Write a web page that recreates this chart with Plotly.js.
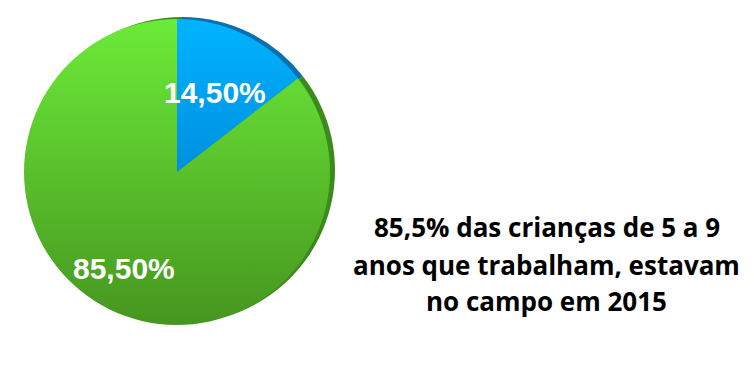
<!DOCTYPE html>
<html>
<head>
<meta charset="utf-8">
<script src="https://cdn.plot.ly/plotly-3.0.1.min.js"></script>
<style>html,body{margin:0;padding:0;background:#fff;}#chart{width:754px;height:366px;}</style>
</head>
<body>
<div id="chart"></div>
<script>
// Data
var categories = ['Outros', 'Campo'];
var values = [14.5, 85.5];
var sliceLabels = ['14,50%', '85,50%'];
var noteLines = ['85,5% das crianças de 5 a 9', 'anos que trabalham, estavam', 'no campo em 2015'];

var W = 754, H = 366;
function px(x){ return x / W; }
function py(y){ return (H - y) / H; }

// pie geometry (pixels)
var cx = 177, cy = 172, r = 153;

var shadow = {
  type: 'pie', labels: categories, values: values, sort: false,
  direction: 'clockwise', rotation: 0,
  marker: {colors: ['#0A6FAE', '#3C8A1C'], line: {width: 0}},
  textinfo: 'none', hoverinfo: 'none', showlegend: false,
  domain: {x: [px(cx - r + 5), px(cx + r + 5)], y: [py(cy + r - 2), py(cy - r - 2)]}
};
var main = {
  type: 'pie', labels: categories, values: values, sort: false,
  direction: 'clockwise', rotation: 0,
  marker: {colors: ['#00A4F4', '#5ABF2E'], line: {width: 0}},
  textinfo: 'none', hoverinfo: 'none', showlegend: false,
  domain: {x: [px(cx - r), px(cx + r)], y: [py(cy + r), py(cy - r)]}
};

var labelPos = [[215, 93], [124, 268]];
var notePos = [227, 265, 301];
var annotations = [];
sliceLabels.forEach(function(t, i){
  annotations.push({
    text: t, xref: 'paper', yref: 'paper', x: px(labelPos[i][0]), y: py(labelPos[i][1]),
    xanchor: 'center', yanchor: 'middle', showarrow: false,
    font: {family: 'Liberation Sans, Arial, sans-serif', size: 30, color: '#ffffff', weight: 'bold'}
  });
});
noteLines.forEach(function(t, i){
  annotations.push({
    text: t, xref: 'paper', yref: 'paper', x: px(546.5), y: py(notePos[i]),
    xanchor: 'center', yanchor: 'middle', showarrow: false,
    font: {family: 'Open Sans, sans-serif', size: 26, color: '#000000', weight: 'bold'}
  });
});

var layout = {
  width: W, height: H, margin: {l: 0, r: 0, t: 0, b: 0},
  paper_bgcolor: '#ffffff', plot_bgcolor: '#ffffff',
  showlegend: false, annotations: annotations
};

Plotly.newPlot('chart', [shadow, main], layout, {staticPlot: true}).then(function(gd){
  // add vertical gradients to the main pie slices
  var svg = gd.querySelector('svg.main-svg');
  var ns = 'http://www.w3.org/2000/svg';
  var defs = svg.querySelector('defs') || svg.insertBefore(document.createElementNS(ns, 'defs'), svg.firstChild);
  function grad(id, c1, c2){
    var g = document.createElementNS(ns, 'linearGradient');
    g.setAttribute('id', id); g.setAttribute('x1', '0'); g.setAttribute('y1', '0');
    g.setAttribute('x2', '0'); g.setAttribute('y2', '1');
    [[0, c1], [1, c2]].forEach(function(s){
      var st = document.createElementNS(ns, 'stop');
      st.setAttribute('offset', s[0]); st.setAttribute('stop-color', s[1]);
      g.appendChild(st);
    });
    defs.appendChild(g);
  }
  grad('gBlue', '#00B4FF', '#008FE0');
  grad('gGreen', '#6CEB38', '#46961F');
  var traces = gd.querySelectorAll('.pielayer .trace');
  var mainTrace = traces[traces.length - 1];
  var paths = mainTrace.querySelectorAll('.slice path.surface');
  if (paths[0]) paths[0].style.fill = 'url(#gBlue)';
  if (paths[1]) paths[1].style.fill = 'url(#gGreen)';
});
</script>
</body>
</html>
